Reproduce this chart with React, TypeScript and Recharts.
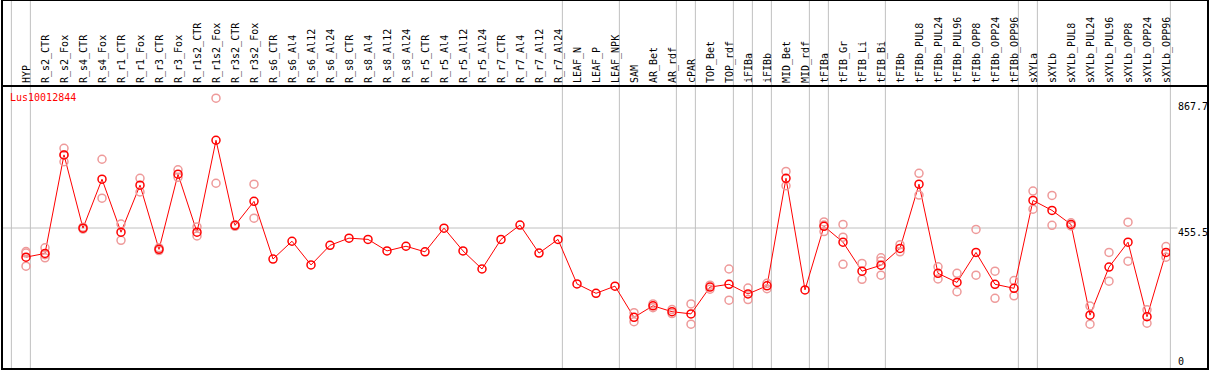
import { ComposedChart, Line, Scatter, XAxis, YAxis, ReferenceLine } from 'recharts'

const categories = [
  'HYP', 'R_s2_CTR', 'R_s2_Fox', 'R_s4_CTR', 'R_s4_Fox', 'R_r1_CTR', 'R_r1_Fox', 'R_r3_CTR', 'R_r3_Fox',
  'R_r1s2_CTR', 'R_r1s2_Fox', 'R_r3s2_CTR', 'R_r3s2_Fox', 'R_s6_CTR', 'R_s6_Al4', 'R_s6_Al12', 'R_s6_Al24',
  'R_s8_CTR', 'R_s8_Al4', 'R_s8_Al12', 'R_s8_Al24', 'R_r5_CTR', 'R_r5_Al4', 'R_r5_Al12', 'R_r5_Al24',
  'R_r7_CTR', 'R_r7_Al4', 'R_r7_Al12', 'R_r7_Al24', 'LEAF_N', 'LEAF_P', 'LEAF_NPK', 'SAM', 'AR_Bet', 'AR_rdf',
  'cPAR', 'TOP_Bet', 'TOP_rdf', 'iFIBa', 'iFIBb', 'MID_Bet', 'MID_rdf', 'tFIBa', 'tFIB_Gr', 'tFIB_Li', 'tFIB_Bi',
  'tFIBb', 'tFIBb_PUL8', 'tFIBb_PUL24', 'tFIBb_PUL96', 'tFIBb_OPP8', 'tFIBb_OPP24', 'tFIBb_OPP96', 'sXYLa',
  'sXYLb', 'sXYLb_PUL8', 'sXYLb_PUL24', 'sXYLb_PUL96', 'sXYLb_OPP8', 'sXYLb_OPP24', 'sXYLb_OPP96',
]

// mean expression per sample
const means = [
  362, 374, 690, 455, 612, 442, 593, 387, 628, 442, 737, 464, 541, 356, 413, 337, 400, 423, 419, 382, 397,
  379, 455, 382, 324, 419, 465, 375, 419, 276, 246, 269, 169, 206, 187, 180, 266, 275, 244, 270, 615, 257,
  461, 410, 317, 336, 390, 596, 310, 281, 377, 275, 262, 544, 512, 467, 176, 330, 410, 171, 377,
]

// individual replicates
const replicates: number[][] = [
  [380, 375, 333], [392, 370, 360], [711, 690, 668], [458, 452], [676, 551], [468, 416], [615, 571],
  [392, 383], [642, 618], [459, 430], [872, 599], [466, 461], [596, 487],
  [], [], [], [], [], [], [], [], [], [], [], [], [], [], [], [], [], [], [],
  [184, 155], [212, 200], [194, 181], [212, 147], [272, 259], [324, 224], [263, 226], [278, 261],
  [637, 591], [], [475, 465, 444], [467, 426, 339], [342, 291], [360, 350, 304], [402, 379],
  [631, 561], [331, 292], [310, 251], [451, 304], [317, 230], [287, 238], [574, 516], [560, 464],
  [472, 462], [205, 147], [377, 285], [474, 349], [193, 150], [396, 362],
]

// last sample index of each group (grey separators)
const groupEnds = [-1, 0, 28, 31, 34, 35, 37, 38, 39, 41, 42, 45, 52, 53, 60]

const yTicks = [867.7, 455.5, 0]
const midValue = 455.5

const MONO = '"DejaVu Sans Mono", monospace'
const Y_MAX = 911
const Y_TOP = (Y_MAX * 370) / 284

const lineData = means.map((v, i) => ({ x: i, y: v }))
const repData = replicates.flatMap((arr, i) => arr.map(v => ({ x: i, y: v })))

const XTick = (props: any) => {
  const { x, y, payload } = props
  return (
    <text
      transform={`translate(${x + 4},${y}) rotate(-90)`}
      textAnchor="start"
      fontFamily={MONO}
      fontSize={10}
      fill="#000"
    >
      {categories[payload.value]}
    </text>
  )
}

const YTick = (props: any) => {
  const { x, y, payload, index } = props
  const dy = index === 0 ? 11 : payload.value === 0 ? -5 : 8
  return (
    <text x={x} y={y + dy} textAnchor="start" fontFamily={MONO} fontSize={10} fill="#000">
      {payload.value}
    </text>
  )
}

const RepDot = (props: any) => (
  <circle cx={props.cx} cy={props.cy} r={4} fill="none" stroke="#ee9a9a" strokeWidth={1.5} />
)

export default function App() {
  return (
    <div style={{ position: 'absolute', left: 0, top: 0, width: 1209, height: 370, background: '#fff' }}>
      <ComposedChart width={1209} height={370} margin={{ top: 0, right: 2, left: 2, bottom: 0 }}>
        <XAxis
          type="number"
          dataKey="x"
          orientation="top"
          domain={[-24 / 19, 1144 / 19]}
          ticks={categories.map((_, i) => i)}
          interval={0}
          height={86}
          tickSize={0}
          tickMargin={3}
          axisLine={false}
          tickLine={false}
          tick={<XTick />}
          allowDataOverflow
        />
        <YAxis
          type="number"
          dataKey="y"
          orientation="right"
          domain={[0, Y_MAX]}
          ticks={yTicks}
          interval={0}
          width={37}
          axisLine={false}
          tickLine={false}
          tick={<YTick />}
          allowDataOverflow
        />
        {groupEnds.map(g => (
          <ReferenceLine
            key={g}
            segment={[{ x: g + 0.23, y: 0 }, { x: g + 0.23, y: Y_TOP }]}
            stroke="#c0c0c0"
            strokeWidth={1}
            ifOverflow="visible"
          />
        ))}
        <ReferenceLine
          segment={[{ x: -24 / 19, y: midValue }, { x: 60.6, y: midValue }]}
          stroke="#c0c0c0"
          strokeWidth={1}
          ifOverflow="visible"
        />
        <Scatter data={repData} shape={<RepDot />} isAnimationActive={false} />
        <Line
          data={lineData}
          dataKey="y"
          type="linear"
          stroke="#ff0000"
          strokeWidth={1}
          dot={{ r: 4, stroke: '#ff0000', strokeWidth: 1.5, fill: 'none' }}
          activeDot={false}
          isAnimationActive={false}
        />
      </ComposedChart>
      <div
        style={{
          position: 'absolute', left: 1, top: -1, width: 1208, height: 371,
          border: '2px solid #000', boxSizing: 'border-box', pointerEvents: 'none',
        }}
      />
      <div
        style={{
          position: 'absolute', left: 1, top: 85, width: 1208, height: 0,
          borderTop: '2px solid #000', pointerEvents: 'none',
        }}
      />
      <div
        style={{
          position: 'absolute', left: 10, top: 93, fontFamily: MONO, fontSize: 10,
          lineHeight: '10px', color: '#ff0000', whiteSpace: 'nowrap',
        }}
      >
        Lus10012844
      </div>
    </div>
  )
}
